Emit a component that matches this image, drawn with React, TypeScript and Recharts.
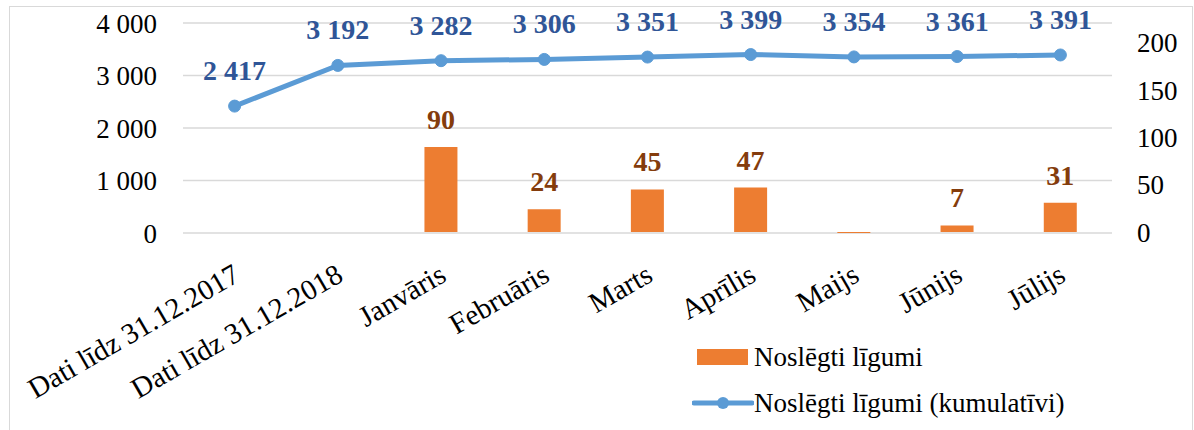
import {
  Bar,
  CartesianGrid,
  ComposedChart,
  LabelList,
  Line,
  XAxis,
  YAxis,
} from "recharts";

const categories = [
  "Dati līdz 31.12.2017",
  "Dati līdz 31.12.2018",
  "Janvāris",
  "Februāris",
  "Marts",
  "Aprīlis",
  "Maijs",
  "Jūnijs",
  "Jūlijs",
];
const signed: Array<number | null> = [null, null, 90, 24, 45, 47, -1, 7, 31];
const cumulative = [2417, 3192, 3282, 3306, 3351, 3399, 3354, 3361, 3391];
const leftTicks = [0, 1000, 2000, 3000, 4000];
const rightTicks = [0, 50, 100, 150, 200];

const data = categories.map((name, i) => ({
  name,
  signed: signed[i],
  cumulative: cumulative[i],
}));

const FONT = '"Liberation Serif", "Times New Roman", serif';
const fmt = (v: number) => String(v).replace(/\B(?=(\d{3})+(?!\d))/g, " ");

const CategoryTick = ({ x, y, payload }: any) => (
  <text
    x={x + 7}
    y={y + 45}
    transform={`rotate(-30, ${x + 7}, ${y + 45})`}
    textAnchor="end"
    fontFamily={FONT}
    fontSize={29}
    fill="#000"
  >
    {payload.value}
  </text>
);

const LineLabel = ({ x, y, value }: any) => (
  <text x={x} y={y - 26} textAnchor="middle" fontFamily={FONT} fontSize={28} fontWeight="bold" fill="#2F5597">
    {fmt(value)}
  </text>
);

const BarLabel = ({ x, y, width, value }: any) => {
  if (value == null || value <= 0) return null;
  return (
    <text x={x + width / 2} y={y - 18} textAnchor="middle" fontFamily={FONT} fontSize={28} fontWeight="bold" fill="#843C0C">
      {value}
    </text>
  );
};

const ChartLegend = () => (
  <div style={{ position: "absolute", left: 692, top: 334, fontFamily: FONT, fontSize: 27, color: "#000", lineHeight: "46px" }}>
    <div style={{ display: "flex", alignItems: "center" }}>
      <span style={{ width: 51, height: 16, background: "#ED7D31", display: "inline-block", margin: "0 6px 0 5px" }} />
      Noslēgti līgumi
    </div>
    <div style={{ display: "flex", alignItems: "center" }}>
      <svg width={62} height={16}>
        <line x1={2} y1={8} x2={60} y2={8} stroke="#5B9BD5" strokeWidth={5} strokeLinecap="round" />
        <circle cx={31} cy={8} r={6} fill="#5B9BD5" />
      </svg>
      Noslēgti līgumi (kumulatīvi)
    </div>
  </div>
);

export default function App() {
  return (
    <div style={{ position: "absolute", left: 0, top: 0, width: 1194, height: 430, background: "#fff", overflow: "hidden" }}>
      <div style={{ position: "absolute", left: 9, top: 6, width: 1182, height: 440, border: "1px solid #D9D9D9" }} />
      <ComposedChart
        width={1194}
        height={430}
        data={data}
        margin={{ top: 23, right: 22, left: 23, bottom: 97 }}
        style={{ position: "absolute", left: 0, top: 0 }}
      >
        <CartesianGrid yAxisId="left" horizontal vertical={false} stroke="#D9D9D9" strokeWidth={1.5} />
        <XAxis
          dataKey="name"
          axisLine={false}
          tickLine={false}
          tickSize={0}
          height={100}
          interval={0}
          tick={<CategoryTick />}
        />
        <YAxis
          yAxisId="left"
          domain={[0, 4000]}
          ticks={leftTicks}
          interval={0}
          width={160}
          axisLine={false}
          tickLine={false}
          tickSize={0}
          tickMargin={26}
          tickFormatter={fmt}
          tick={{ fontFamily: FONT, fontSize: 27, fill: "#000" }}
        />
        <YAxis
          yAxisId="right"
          orientation="right"
          domain={[0, 221]}
          ticks={rightTicks}
          interval={0}
          width={60}
          axisLine={false}
          tickLine={false}
          tickSize={0}
          tickMargin={25}
          tick={{ fontFamily: FONT, fontSize: 27, fill: "#000", textAnchor: "start" }}
        />
        <Bar yAxisId="right" dataKey="signed" name="Noslēgti līgumi" fill="#ED7D31" barSize={33} isAnimationActive={false}>
          <LabelList dataKey="signed" content={<BarLabel />} />
        </Bar>
        <Line
          yAxisId="left"
          dataKey="cumulative"
          name="Noslēgti līgumi (kumulatīvi)"
          stroke="#5B9BD5"
          strokeWidth={5}
          dot={{ r: 6, fill: "#5B9BD5", stroke: "#5B9BD5", strokeWidth: 1 }}
          isAnimationActive={false}
        >
          <LabelList dataKey="cumulative" content={<LineLabel />} />
        </Line>
      </ComposedChart>
      <ChartLegend />
    </div>
  );
}
